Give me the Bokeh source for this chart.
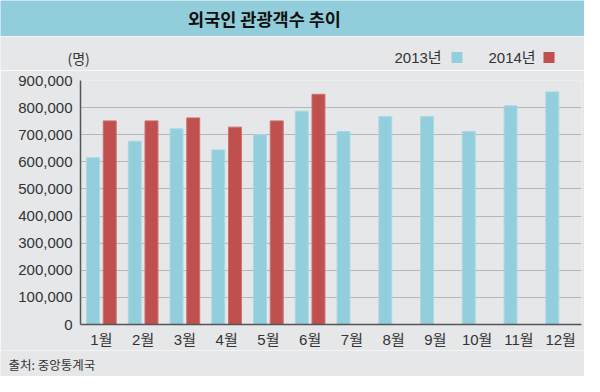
from bokeh.plotting import figure
from bokeh.models import (ColumnDataSource, Range1d, FactorRange, NumeralTickFormatter,
                          FixedTicker)
from bokeh.transform import dodge
from bokeh.layouts import column
from bokeh.core.properties import value
from bokeh.embed import file_html
from bokeh.resources import INLINE

title_text = "외국인 관광객수 추이"
unit_text = "(명)"
source_text = "출처: 중앙통계국"
months = ["1월", "2월", "3월", "4월", "5월", "6월", "7월", "8월", "9월", "10월", "11월", "12월"]
visitors_2013 = [615000, 676000, 722000, 644000, 700000, 787000, 712000, 767000, 767000, 712000, 807000, 858000]
months_2014 = ["1월", "2월", "3월", "4월", "5월", "6월"]
visitors_2014 = [751000, 751000, 762000, 728000, 751000, 849000]
y_ticks = [0, 100000, 200000, 300000, 400000, 500000, 600000, 700000, 800000, 900000]
series_labels = ["2013년", "2014년"]

BLUE = "#93cedd"
RED = "#c0504d"
BG = "#e6e7e9"
FONT = "'Liberation Sans', 'Noto Sans CJK KR', sans-serif"
CJK = "'Noto Sans CJK KR', sans-serif"
W = 584


def panel(h, color):
    f = figure(width=W, height=h, x_range=Range1d(0, W), y_range=Range1d(0, h),
               x_axis_type=None, y_axis_type=None, toolbar_location=None,
               output_backend="svg", min_border=0)
    f.frame_align = False
    f.grid.visible = False
    f.outline_line_color = None
    f.background_fill_color = color
    f.border_fill_color = color
    return f


# title band (0-36)
band = panel(36, "#92cddc")
band.text(x=[264], y=[18], text=[title_text], text_align="center", text_baseline="middle",
          text_font=value(CJK), text_font_size="17.5px", text_font_style="bold",
          text_color="#111111")

# header with unit and legend (36-70)
head = panel(34, BG)
head.text(x=[67], y=[13], text=[unit_text], text_align="left", text_baseline="middle",
          text_font=value(CJK), text_font_size="14px", text_color="#333333")
head.text(x=[394, 488], y=[13, 13], text=series_labels, text_align="left",
          text_baseline="middle", text_font=value(FONT), text_font_size="15px",
          text_color="#333333")
head.rect(x=[456.5, 548.5], y=[13, 13], width=11, height=11, fill_color=[BLUE, RED],
          line_color=None)

# main chart (70-350)
src13 = ColumnDataSource(dict(month=months, v=visitors_2013))
src14 = ColumnDataSource(dict(month=months_2014, v=visitors_2014))

p = figure(width=W, height=280, x_range=FactorRange(*months, range_padding=0),
           y_range=Range1d(0, 900000), toolbar_location=None, output_backend="svg",
           min_border_left=80, min_border_right=3, min_border_top=10, min_border_bottom=26)
p.frame_align = False
p.background_fill_color = BG
p.border_fill_color = BG
p.outline_line_color = None

p.vbar(x=dodge("month", -0.2, range=p.x_range), top="v", width=0.31, source=src13,
       fill_color=BLUE, line_color="#a9d9e5", line_width=1)
p.vbar(x=dodge("month", 0.2, range=p.x_range), top="v", width=0.31, source=src14,
       fill_color=RED, line_color="#cd6f6c", line_width=1)

p.xgrid.grid_line_color = None
p.ygrid.grid_line_color = "#b5b6b8"
p.ygrid.grid_line_width = 1.2
p.yaxis.ticker = FixedTicker(ticks=y_ticks)
p.yaxis.formatter = NumeralTickFormatter(format="0,0")

for ax in (p.xaxis[0], p.yaxis[0]):
    ax.axis_line_color = "#555555"
    ax.axis_line_width = 1.5
    ax.major_tick_line_color = None
    ax.minor_tick_line_color = None
    ax.major_tick_out = 0
    ax.major_tick_in = 0
    ax.minor_tick_out = 0
    ax.minor_tick_in = 0
    ax.major_label_text_font = FONT
    ax.major_label_text_font_size = "15px"
    ax.major_label_text_color = "#333333"
p.yaxis.major_label_standoff = 8
p.xaxis.major_label_standoff = 6

# footer (350-376)
foot = panel(26, BG)
foot.text(x=[8], y=[12], text=[source_text], text_align="left", text_baseline="middle",
          text_font=value(CJK), text_font_size="12.5px", text_color="#333333")

layout = column(band, head, p, foot, spacing=0)
open("out.html", "w").write(file_html(layout, INLINE))
